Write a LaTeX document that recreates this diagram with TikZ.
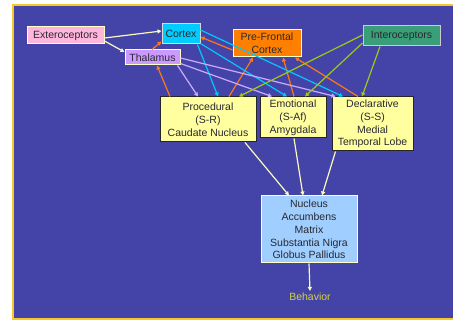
\documentclass[tikz,border=0pt]{standalone}
\usepackage{fontspec}
\setmainfont{Liberation Sans}
\usetikzlibrary{arrows.meta}
\definecolor{slideblue}{RGB}{68,68,168}
\definecolor{slideframe}{RGB}{246,200,40}
\definecolor{boxtext}{RGB}{40,40,50}
\definecolor{exterofill}{RGB}{255,182,220}
\definecolor{cortexfill}{RGB}{0,204,255}
\definecolor{pfcfill}{RGB}{255,128,0}
\definecolor{interofill}{RGB}{58,158,120}
\definecolor{thalfill}{RGB}{204,153,255}
\definecolor{memfill}{RGB}{255,255,160}
\definecolor{nucfill}{RGB}{160,206,255}
\definecolor{paleedge}{RGB}{255,255,200}
\definecolor{creamline}{RGB}{250,250,190}
\definecolor{orangeline}{RGB}{255,120,20}
\definecolor{cyanline}{RGB}{0,200,255}
\definecolor{lavline}{RGB}{204,170,255}
\definecolor{greenline}{RGB}{160,200,20}
\definecolor{behavtext}{RGB}{210,210,60}
\begin{document}
\begin{tikzpicture}[x=1pt,y=-1pt,
  box/.style  = {rectangle,line width=1pt,inner sep=0pt,align=center,text=boxtext,
                 font=\fontsize{10.5}{12.8}\selectfont},
  membox/.style = {box,fill=memfill,draw=black!85},
  link/.style = {line width=1.2pt,-{Triangle[length=4pt,width=4pt]}}]
\useasboundingbox (0,0) rectangle (453,320);
\clip (0,0) rectangle (453,320);
% slide
\fill[white] (0,0) rectangle (453,320);
\fill[slideblue] (13,5) rectangle (460,319);
\draw[slideframe,line width=1.5pt] (460,5) -- (13,5) -- (13,319) -- (460,319);
% top row
\node[box,fill=exterofill,draw=paleedge,minimum width=77,minimum height=17] (extero) at (65.5,35.5) {Exteroceptors};
\node[box,fill=cortexfill,draw=black!15,minimum width=38,minimum height=20] (cortex) at (181,34) {Cortex};
\node[box,fill=pfcfill,draw=paleedge,minimum width=68,minimum height=27] (pfc) at (267,43.5) {Pre-Frontal\\Cortex};
\node[box,fill=interofill,draw=black!20,minimum width=77,minimum height=20] (intero) at (401.5,36) {Interoceptors};
\node[box,fill=thalfill,draw=paleedge,minimum width=55,minimum height=15] (thal) at (152.5,57.5) {Thalamus};
% memory systems
\node[membox,minimum width=96,minimum height=45] (proc) at (208,119.5) {Procedural\\(S-R)\\Caudate Nucleus};
\node[membox,minimum width=66,minimum height=41] (emo) at (293,117.5) {Emotional\\(S-Af)\\Amygdala};
\node[membox,minimum width=81,minimum height=54] (decl) at (372.5,124) {Declarative\\(S-S)\\Medial\\Temporal Lobe};
\node[box,fill=nucfill,draw=paleedge,minimum width=96,minimum height=67] (nuc) at (309,229.5) {Nucleus\\Accumbens\\Matrix\\Substantia Nigra\\Globus Pallidus};
\node[inner sep=2pt,text=behavtext,font=\fontsize{10.5}{12.8}\selectfont] (behav) at (310,297) {Behavior};
% sensory input
\draw[link,creamline] ([yshift=-2.5pt]extero.east) -- ([yshift=3pt]cortex.west);
\draw[link,creamline] ([yshift=-5.5pt]extero.east) -- ([yshift=5.5pt]thal.west);
% orange
\draw[link,orangeline] ([xshift=-38pt]proc.north) -- ([xshift=4.5pt]thal.south);
\draw[link,orangeline] ([xshift=-0.5pt]thal.north) -- ([yshift=3pt]cortex.south west);
\draw[link,orangeline] ([yshift=-6.5pt]pfc.west) -- ([yshift=-3pt]cortex.east);
\draw[link,orangeline] ([xshift=21pt]proc.north) -- ([xshift=-14pt]pfc.south);
\draw[link,orangeline] ([xshift=1pt]emo.north) -- ([xshift=16pt]pfc.south);
\draw[link,orangeline] ([xshift=-14.5pt]decl.north) -- ([xshift=28pt]pfc.south);
% cyan
\draw[link,cyanline] ([xshift=-3pt]cortex.south east) -- ([xshift=10pt]proc.north);
\draw[link,cyanline] ([yshift=1pt]cortex.south east) -- ([xshift=-6pt]emo.north);
\draw[link,cyanline] ([yshift=4pt]cortex.east) -- ([xshift=-29.5pt]decl.north);
% lavender
\draw[link,lavline] ([xshift=-3pt]thal.south east) -- ([xshift=-10pt]proc.north);
\draw[link,lavline] ([yshift=2pt]thal.south east) -- ([xshift=-21pt]emo.north);
\draw[link,lavline] ([yshift=-0.5pt]thal.east) -- ([xshift=-37pt]decl.north);
% green
\draw[link,greenline] ([yshift=1pt]intero.west) -- ([xshift=31pt]proc.north);
\draw[link,greenline] ([yshift=-7pt]intero.west) -- ([xshift=12pt]emo.north);
\draw[link,greenline] ([xshift=-21.5pt]intero.south) -- ([xshift=-10.5pt]decl.north);
% output
\draw[link,creamline] ([xshift=37pt]proc.south) -- ([xshift=-20pt]nuc.north);
\draw[link,creamline] ([xshift=1pt]emo.south) -- ([xshift=-6pt]nuc.north);
\draw[link,creamline] ([xshift=-37pt]decl.south) -- ([xshift=13pt]nuc.north);
\draw[link,creamline] (nuc.south) -- (behav.north);
\end{tikzpicture}
\end{document}
